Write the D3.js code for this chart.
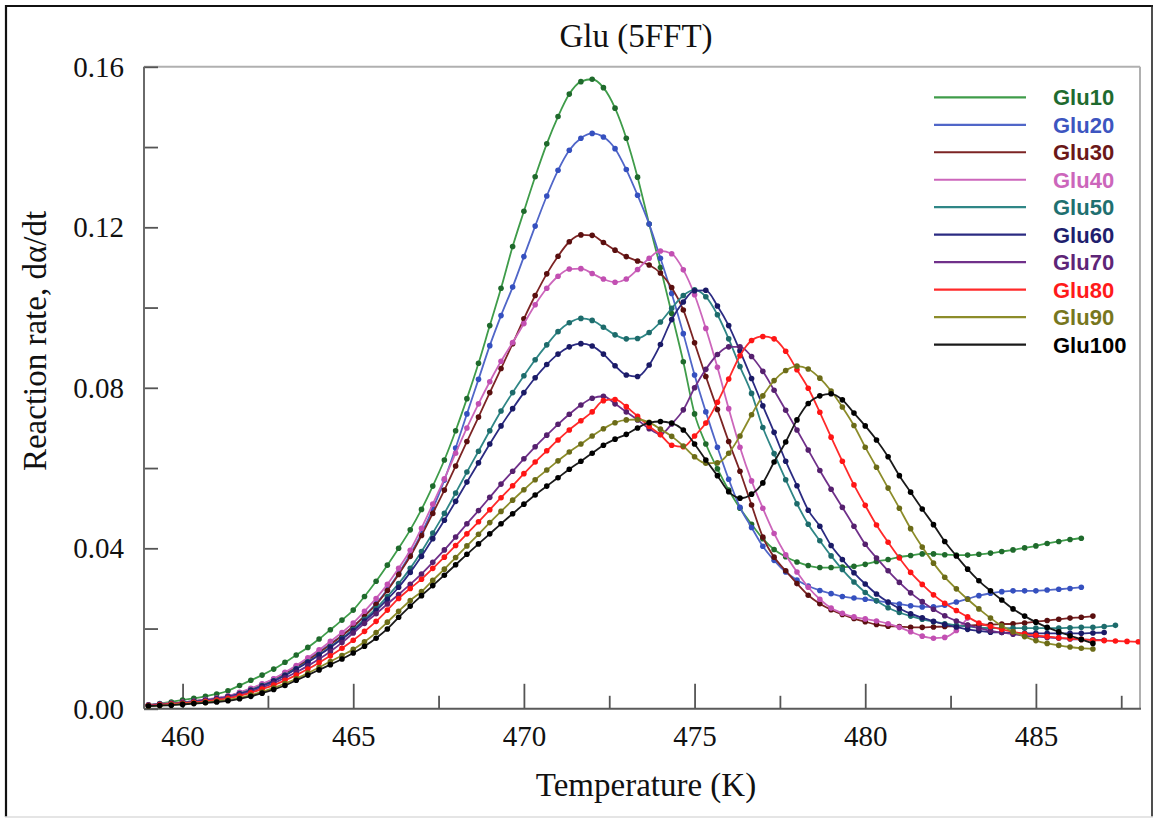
<!DOCTYPE html>
<html><head><meta charset="utf-8">
<script src="https://cdn.jsdelivr.net/npm/d3@7"></script>
<style>body{margin:0;background:#fff}</style>
</head><body>
<svg id="c" width="1158" height="821"></svg>
<script>
const temps = [459.00,459.33,459.67,460.00,460.33,460.67,461.00,461.33,461.67,462.00,462.33,462.67,463.00,463.33,463.67,464.00,464.33,464.67,465.00,465.33,465.67,466.00,466.33,466.67,467.00,467.33,467.67,468.00,468.33,468.67,469.00,469.33,469.67,470.00,470.33,470.67,471.00,471.33,471.67,472.00,472.33,472.67,473.00,473.33,473.67,474.00,474.33,474.67,475.00,475.33,475.67,476.00,476.33,476.67,477.00,477.33,477.67,478.00,478.33,478.67,479.00,479.33,479.67,480.00,480.33,480.67,481.00,481.33,481.67,482.00,482.33,482.67,483.00,483.33,483.67,484.00,484.33,484.67,485.00,485.33,485.67,486.00,486.33,486.67,487.00,487.33,487.67,488.00];

const seriesNames = ["Glu10","Glu20","Glu30","Glu40","Glu50","Glu60","Glu70","Glu80","Glu90","Glu100"];

const glu10 = [.0010,.0013,.0017,.0022,.0026,.0031,.0037,.0045,.0058,.0071,
.0084,.0099,.0116,.0134,.0153,.0174,.0197,.0221,.0246,.0280,
.0318,.0358,.0400,.0446,.0497,.0555,.0620,.0693,.0773,.0861,
.0955,.1048,.1152,.1240,.1326,.1408,.1476,.1532,.1563,.1569,
.1548,.1497,.1422,.1325,.1208,.1100,.0985,.0865,.0735,.0660,
.0598,.0545,.0500,.0460,.0424,.0397,.0379,.0366,.0357,.0352,
.0352,.0353,.0355,.0360,.0367,.0372,.0378,.0382,.0386,.0386,
.0384,.0383,.0383,.0385,.0388,.0392,.0396,.0401,.0406,.0412,
.0417,.0422,.0425];

const glu20 = [.0009,.0011,.0013,.0016,.0019,.0022,.0026,.0031,.0040,.0050,
.0061,.0074,.0089,.0105,.0123,.0142,.0162,.0183,.0205,.0232,
.0262,.0297,.0338,.0385,.0437,.0498,.0570,.0650,.0735,.0821,
.0905,.0980,.1051,.1127,.1203,.1278,.1342,.1392,.1422,.1434,
.1425,.1396,.1344,.1280,.1208,.1123,.1035,.0935,.0832,.0740,
.0652,.0572,.0502,.0452,.0405,.0370,.0341,.0321,.0306,.0295,
.0287,.0280,.0276,.0273,.0269,.0265,.0261,.0257,.0254,.0254,
.0258,.0266,.0274,.0282,.0288,.0292,.0294,.0294,.0294,.0296,
.0298,.0300,.0303];

const glu30 = [.0009,.0011,.0013,.0016,.0019,.0022,.0026,.0031,.0039,.0049,
.0060,.0072,.0087,.0103,.0121,.0140,.0160,.0182,.0205,.0231,
.0260,.0295,.0335,.0380,.0432,.0487,.0545,.0605,.0666,.0727,
.0788,.0848,.0910,.0972,.1030,.1084,.1128,.1164,.1181,.1180,
.1162,.1143,.1127,.1116,.1106,.1086,.1050,.0994,.0912,.0828,
.0746,.0666,.0592,.0508,.0428,.0378,.0344,.0312,.0283,.0262,
.0247,.0235,.0225,.0217,.0210,.0206,.0205,.0203,.0203,.0204,
.0205,.0206,.0208,.0209,.0210,.0211,.0212,.0214,.0217,.0220,
.0223,.0226,.0228,.0231];

const glu40 = [.0010,.0012,.0014,.0016,.0019,.0023,.0027,.0032,.0041,.0051,
.0062,.0075,.0091,.0108,.0127,.0147,.0168,.0190,.0214,.0243,
.0275,.0310,.0350,.0395,.0450,.0510,.0573,.0637,.0700,.0760,
.0815,.0866,.0913,.0960,.1007,.1048,.1078,.1096,.1097,.1085,
.1071,.1063,.1071,.1095,.1123,.1141,.1134,.1094,.1032,.0948,
.0851,.0748,.0652,.0568,.0500,.0437,.0384,.0341,.0303,.0273,
.0251,.0238,.0229,.0224,.0219,.0212,.0203,.0192,.0181,.0176,
.0178,.0195,.0226];

const glu50 = [.0009,.0011,.0013,.0015,.0018,.0021,.0025,.0030,.0038,.0047,
.0058,.0070,.0084,.0100,.0117,.0135,.0155,.0176,.0198,.0223,
.0250,.0280,.0312,.0350,.0392,.0438,.0487,.0538,.0590,.0642,
.0693,.0742,.0788,.0830,.0870,.0907,.0940,.0962,.0973,.0968,
.0951,.0932,.0922,.0923,.0938,.0964,.0998,.1030,.1044,.1027,
.0982,.0922,.0853,.0786,.0701,.0636,.0571,.0511,.0460,.0419,
.0381,.0347,.0316,.0290,.0269,.0252,.0240,.0231,.0223,.0217,
.0212,.0208,.0205,.0202,.0201,.0201,.0201,.0201,.0201,.0201,
.0201,.0202,.0203,.0203,.0205,.0208];

const glu60 = [.0009,.0011,.0013,.0015,.0018,.0021,.0025,.0030,.0037,.0046,
.0057,.0069,.0083,.0099,.0116,.0134,.0153,.0174,.0195,.0219,
.0245,.0273,.0303,.0340,.0380,.0424,.0470,.0517,.0565,.0613,
.0660,.0705,.0748,.0788,.0825,.0858,.0884,.0902,.0910,.0904,
.0884,.0855,.0832,.0828,.0857,.0908,.0970,.1014,.1042,.1043,
.1004,.0955,.0892,.0823,.0755,.0689,.0617,.0556,.0495,.0455,
.0407,.0372,.0339,.0311,.0286,.0266,.0250,.0237,.0227,.0218,
.0210,.0204,.0198,.0194,.0191,.0190,.0189,.0188,.0188,.0188,
.0188,.0188,.0188,.0189,.0190];

const glu70 = [.0009,.0011,.0012,.0015,.0017,.0020,.0024,.0029,.0035,.0043,
.0053,.0064,.0077,.0091,.0107,.0124,.0143,.0165,.0189,.0213,
.0237,.0261,.0285,.0310,.0336,.0365,.0396,.0428,.0461,.0494,
.0527,.0560,.0592,.0623,.0653,.0682,.0709,.0734,.0757,.0774,
.0779,.0760,.0740,.0720,.0698,.0684,.0710,.0745,.0800,.0846,
.0883,.0902,.0902,.0878,.0841,.0794,.0744,.0695,.0645,.0594,
.0547,.0502,.0455,.0410,.0376,.0344,.0315,.0289,.0267,.0248,
.0232,.0219,.0209,.0201,.0194,.0190,.0186,.0182,.0180,.0178,
.0176,.0174,.0173,.0172,.0171];

const glu80 = [.0008,.0010,.0012,.0014,.0016,.0019,.0022,.0026,.0032,.0040,
.0049,.0059,.0071,.0084,.0099,.0115,.0132,.0151,.0171,.0193,
.0218,.0246,.0275,.0300,.0323,.0350,.0378,.0407,.0436,.0466,
.0496,.0526,.0556,.0586,.0615,.0643,.0670,.0695,.0718,.0740,
.0768,.0771,.0753,.0729,.0704,.0683,.0657,.0653,.0680,.0712,
.0764,.0822,.0880,.0918,.0928,.0922,.0891,.0845,.0799,.0739,
.0677,.0617,.0558,.0507,.0458,.0415,.0376,.0340,.0310,.0284,
.0263,.0245,.0229,.0214,.0205,.0198,.0192,.0187,.0183,.0180,
.0177,.0175,.0173,.0171,.0170,.0169,.0168,.0167];

const glu90 = [.0007,.0008,.0010,.0012,.0014,.0016,.0019,.0022,.0027,.0034,
.0042,.0052,.0063,.0075,.0089,.0103,.0118,.0133,.0148,.0167,
.0190,.0216,.0243,.0270,.0292,.0320,.0348,.0377,.0406,.0435,
.0464,.0492,.0520,.0546,.0571,.0595,.0618,.0640,.0660,.0680,
.0698,.0713,.0720,.0721,.0714,.0697,.0679,.0655,.0628,.0612,
.0613,.0637,.0680,.0733,.0780,.0818,.0843,.0854,.0847,.0824,
.0792,.0752,.0706,.0652,.0602,.0550,.0500,.0449,.0403,.0363,
.0328,.0299,.0273,.0249,.0226,.0207,.0192,.0180,.0170,.0163,
.0158,.0154,.0151,.0149];

const glu100 = [.0007,.0008,.0009,.0011,.0013,.0015,.0017,.0020,.0025,.0031,
.0039,.0048,.0058,.0071,.0084,.0097,.0110,.0124,.0139,.0156,
.0176,.0199,.0228,.0256,.0282,.0307,.0333,.0359,.0385,.0411,
.0436,.0461,.0486,.0510,.0533,.0555,.0576,.0597,.0617,.0637,
.0657,.0672,.0684,.0700,.0713,.0716,.0712,.0695,.0660,.0620,
.0581,.0541,.0525,.0535,.0563,.0615,.0665,.0720,.0761,.0780,
.0785,.0770,.0737,.0705,.0670,.0628,.0581,.0540,.0498,.0459,
.0417,.0381,.0348,.0319,.0294,.0271,.0249,.0231,.0216,.0203,
.0192,.0182,.0173,.0163];

const seriesValues = [glu10,glu20,glu30,glu40,glu50,glu60,glu70,glu80,glu90,glu100];
const lineColors = ["#3f9c4a","#5066c8","#7c2424","#cc66bb","#2f8686","#2b2b82","#70308a","#ff2a2a","#8c8c2a","#1a1a1a"];
const dotColors  = ["#1f6a2c","#3550bf","#5a0f0f","#c24fb2","#1d6b6b","#1a1a66","#55206e","#ff1515","#6b6b18","#000000"];
const textColors = ["#1f6b2f","#3d55c0","#6b1818","#cc66bb","#1f7070","#1f1f6e","#5e2577","#ff1a1a","#77771e","#000000"];

const xTicks = [460,465,470,475,480,485];
const xMinor = [462.5,467.5,472.5,477.5,482.5,487.5];
const yTicks = [0,0.04,0.08,0.12,0.16];
const yMinor = [0.02,0.06,0.10,0.14];

const svg = d3.select("#c");
const L = 144, R = 1140, T = 66.8, B = 708.8;
const x = d3.scaleLinear().domain([458.87, 488.05]).range([L, R]);
const y = d3.scaleLinear().domain([0, 0.16]).range([B, T]);

svg.append("rect").attr("width",1158).attr("height",821).attr("fill","#fff");

// outer frame
svg.append("line").attr("x1",6).attr("y1",5).attr("x2",6).attr("y2",817).attr("stroke","#111").attr("stroke-width",2.2);
svg.append("line").attr("x1",5).attr("y1",6).attr("x2",1153).attr("y2",6).attr("stroke","#111").attr("stroke-width",2.2);
svg.append("line").attr("x1",1152).attr("y1",5).attr("x2",1152).attr("y2",817).attr("stroke","#222").attr("stroke-width",1.6);
svg.append("line").attr("x1",5).attr("y1",817).attr("x2",1153).attr("y2",817).attr("stroke","#ddd").attr("stroke-width",1.5);

// plot frame (top/right light)
svg.append("line").attr("x1",L).attr("y1",T).attr("x2",R).attr("y2",T).attr("stroke","#b0b0b0").attr("stroke-width",2);
svg.append("line").attr("x1",R).attr("y1",T).attr("x2",R).attr("y2",B).attr("stroke","#b0b0b0").attr("stroke-width",2);

// axes
const fontSerif = "'Liberation Serif','Times New Roman',serif";
const gx = svg.append("g").attr("transform",`translate(0,${B})`)
  .call(d3.axisBottom(x).tickValues(xTicks).tickSize(-25).tickSizeOuter(0).tickPadding(16.5).tickFormat(d3.format("d")));
gx.select(".domain").remove();
gx.selectAll(".tick line").attr("stroke","#555").attr("stroke-width",1.8);
gx.selectAll(".tick text").attr("font-family",fontSerif).attr("font-size",29).attr("fill","#111");
const gxm = svg.append("g").attr("transform",`translate(0,${B})`)
  .call(d3.axisBottom(x).tickValues(xMinor).tickSize(-13).tickSizeOuter(0).tickFormat(""));
gxm.select(".domain").remove();
gxm.selectAll(".tick line").attr("stroke","#555").attr("stroke-width",1.8);

const gy = svg.append("g").attr("transform",`translate(${L},0)`)
  .call(d3.axisLeft(y).tickValues(yTicks).tickSize(-14).tickSizeOuter(0).tickPadding(20).tickFormat(d3.format(".2f")));
gy.select(".domain").remove();
gy.selectAll(".tick line").attr("stroke","#555").attr("stroke-width",1.8);
gy.selectAll(".tick text").attr("font-family",fontSerif).attr("font-size",29).attr("fill","#111");
const gym = svg.append("g").attr("transform",`translate(${L},0)`)
  .call(d3.axisLeft(y).tickValues(yMinor).tickSize(-14).tickSizeOuter(0).tickFormat(""));
gym.select(".domain").remove();
gym.selectAll(".tick line").attr("stroke","#555").attr("stroke-width",1.8);

svg.append("line").attr("x1",L).attr("y1",T).attr("x2",L).attr("y2",B).attr("stroke","#6a6a6a").attr("stroke-width",2);
svg.append("line").attr("x1",L).attr("y1",B).attr("x2",R+1).attr("y2",B).attr("stroke","#5a5a5a").attr("stroke-width",2);

// titles
svg.append("text").attr("x",636).attr("y",47).attr("text-anchor","middle")
  .attr("font-family",fontSerif).attr("font-size",33).attr("fill","#111").text("Glu (5FFT)");
svg.append("text").attr("x",646).attr("y",796).attr("text-anchor","middle")
  .attr("font-family",fontSerif).attr("font-size",33).attr("fill","#111").text("Temperature (K)");
svg.append("text").attr("transform","translate(46,341) rotate(-90)").attr("text-anchor","middle")
  .attr("font-family",fontSerif).attr("font-size",33).attr("fill","#111").text("Reaction rate, d\u03B1/dt");

// clip
svg.append("clipPath").attr("id","clip").append("rect").attr("x",L).attr("y",T-6).attr("width",R-L).attr("height",B-T+6);

const plot = svg.append("g").attr("clip-path","url(#clip)");
const line = d3.line().x(d=>x(d[0])).y(d=>y(d[1])).curve(d3.curveMonotoneX);

seriesValues.forEach((vals, k) => {
  const pts = vals.map((v,i)=>[temps[i], v]);
  const g = plot.append("g");
  g.append("path").datum(pts).attr("d", line).attr("fill","none")
    .attr("stroke", lineColors[k]).attr("stroke-width",1.8);
  g.selectAll("circle").data(pts).join("circle")
    .attr("cx", d=>x(d[0])).attr("cy", d=>y(d[1])).attr("r", 2.8)
    .attr("fill", dotColors[k]);
});

// legend
const lg = svg.append("g");
seriesNames.forEach((name,k) => {
  const yy = 97.3 + k*27.48;
  lg.append("line").attr("x1",934).attr("x2",1026).attr("y1",yy).attr("y2",yy)
    .attr("stroke", lineColors[k]).attr("stroke-width",2.2);
  lg.append("text").attr("x",1053).attr("y",yy+8).attr("font-family","'Liberation Sans',Arial,sans-serif")
    .attr("font-weight","bold").attr("font-size",22).attr("fill",textColors[k]).text(name);
});
</script>
</body></html>
